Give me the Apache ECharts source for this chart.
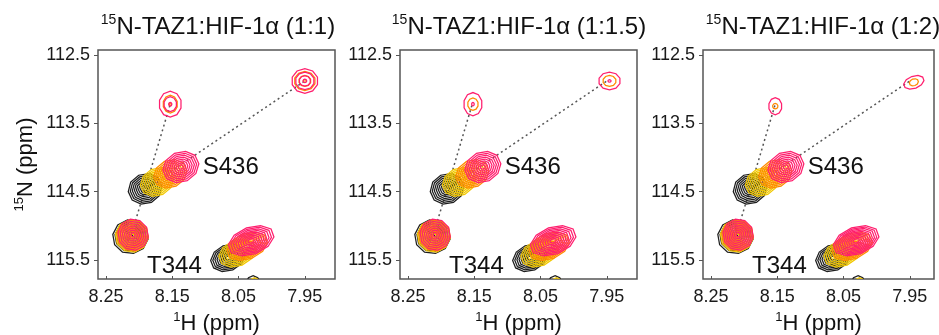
<!DOCTYPE html>
<html><head><meta charset="utf-8">
<script src="https://cdn.jsdelivr.net/npm/echarts@6/dist/echarts.min.js"></script>
<style>html,body{margin:0;padding:0;background:#fff}#c{width:939px;height:335px}</style>
</head><body><div id="c"></div>
<script>
// ---- data ----
const panelRatios = ['1:1', '1:1.5', '1:2'];
const xTicks = [8.25, 8.15, 8.05, 7.95];
const yTicks = [112.5, 113.5, 114.5, 115.5];
// peak: [1H ppm, 15N ppm, half-width 1H, half-width 15N, contour levels, lineshape tilt (deg)]
const freePeaks = [ // black
  [8.191, 114.46, 0.026, 0.22, 8, -25],
  [8.213, 115.16, 0.027, 0.25, 8, -10],
  [8.066, 115.47, 0.027, 0.19, 8, -22],
  [8.028, 115.90, 0.012, 0.17, 2, 0]
];
const yellowPeaks = [
  [8.173, 114.36, 0.026, 0.20, 8, -25],
  [8.211, 115.15, 0.025, 0.24, 8, -10],
  [8.052, 115.40, 0.029, 0.19, 8, -22],
  [8.026, 115.92, 0.011, 0.16, 2, 0]
];
const orangePeaks1 = [
  [7.950, 112.88, 0.016, 0.14, 3, 0],
  [8.153, 113.22, 0.011, 0.13, 2, 0],
  [8.153, 114.24, 0.026, 0.20, 8, -25],
  [8.210, 115.14, 0.024, 0.23, 8, -10],
  [8.037, 115.30, 0.032, 0.19, 9, -22]
];
const pinkPeaks1 = [
  [7.950, 112.88, 0.020, 0.18, 4, 0],
  [8.153, 113.22, 0.017, 0.19, 3, 0],
  [8.137, 114.14, 0.028, 0.22, 8, -25],
  [8.209, 115.13, 0.023, 0.23, 7, -10],
  [8.031, 115.22, 0.036, 0.20, 9, -20]
];
const orangePeaks2 = [
  [7.946, 112.88, 0.010, 0.08, 1, 0],
  [8.152, 113.22, 0.008, 0.09, 1, 0],
  [8.153, 114.24, 0.026, 0.20, 8, -25],
  [8.210, 115.14, 0.024, 0.23, 8, -10],
  [8.037, 115.30, 0.032, 0.19, 9, -22]
];
const pinkPeaks2 = [
  [7.946, 112.88, 0.0165, 0.13, 2, 0],
  [8.152, 113.22, 0.014, 0.17, 2, 0],
  [8.137, 114.14, 0.028, 0.22, 8, -25],
  [8.209, 115.13, 0.023, 0.23, 7, -10],
  [8.031, 115.22, 0.036, 0.20, 9, -20]
];
const orangePeaks3 = [
  [7.944, 112.90, 0.007, 0.05, 1, -20],
  [8.153, 113.25, 0.004, 0.04, 1, 0],
  [8.153, 114.24, 0.026, 0.20, 8, -25],
  [8.210, 115.14, 0.024, 0.23, 8, -10],
  [8.037, 115.30, 0.032, 0.19, 9, -22]
];
const pinkPeaks3 = [
  [7.944, 112.90, 0.016, 0.09, 1, -20],
  [8.153, 113.25, 0.010, 0.125, 1, 0],
  [8.137, 114.14, 0.028, 0.22, 8, -25],
  [8.209, 115.13, 0.023, 0.23, 8, -10],
  [8.031, 115.22, 0.036, 0.20, 10, -20]
];
const shiftPaths = [
  [[8.191, 114.46], [8.153, 113.22]],
  [[8.191, 114.46], [7.950, 112.88]],
  [[8.212, 115.14], [8.191, 114.46]]
];
const assignments = [
  [8.104, 114.15, 'S436'],
  [8.188, 115.60, 'T344']
];
const panelPeaks = [
  [freePeaks, yellowPeaks, orangePeaks1, pinkPeaks1],
  [freePeaks, yellowPeaks, orangePeaks2, pinkPeaks2],
  [freePeaks, yellowPeaks, orangePeaks3, pinkPeaks3]
];

// ---- layout / style ----
const colors = ['#1e1e1e', '#f2c800', '#ff8a00', '#ff1f6e'];
const grids = [
  { left: 98, top: 50, width: 237, height: 229 },
  { left: 400, top: 50, width: 237, height: 229 },
  { left: 703, top: 50, width: 231, height: 229 }
];
const titleCenters = [213, 514, 818];
const pxPerPpmH = 663;
const hLeft = 8.262;
const nMin = 112.427, nMax = 115.78;
const FONT = '"Liberation Sans", Arial, Helvetica, sans-serif';

function renderPeak(params, api) {
  const c = api.coord([api.value(0), api.value(1)]);
  const sz = api.size([api.value(2), api.value(3)]);
  const rx = Math.abs(sz[0]), ry = Math.abs(sz[1]);
  const n = api.value(4);
  const t = api.value(5) * Math.PI / 180;
  const cs = Math.cos(t), sn = Math.sin(t);
  const color = api.visual('color');
  const children = [];
  const inner = 0.14;
  for (let i = 0; i < n; i++) {
    const s = n === 1 ? 1 : inner + (1 - inner) * i / (n - 1);
    const pts = [];
    for (let k = 0; k < 10; k++) {
      const a = (k + 0.5) * 2 * Math.PI / 10;
      const ex = Math.cos(a) * rx * s, ey = Math.sin(a) * ry * s;
      pts.push([c[0] + ex * cs - ey * sn, c[1] + ex * sn + ey * cs]);
    }
    children.push({ type: 'polygon', shape: { points: pts },
      style: { fill: 'none', stroke: color, lineWidth: 1.25 } });
  }
  return { type: 'group', children };
}

const supStyle = (fs, lh) => ({ fontSize: fs, fontFamily: FONT, fontWeight: 'normal', color: '#111', verticalAlign: 'top', lineHeight: lh });
const mainStyle = (fs, lh) => ({ fontSize: fs, fontFamily: FONT, fontWeight: 'normal', color: '#111', lineHeight: lh });

const option = {
  backgroundColor: '#fff',
  animation: false,
  title: panelRatios.map((r, i) => ({
    text: '{s|15}{n|N-TAZ1:HIF-1α (' + r + ')}',
    left: titleCenters[i], top: 8, textAlign: 'center',
    textStyle: { fontFamily: FONT, fontWeight: 'normal', rich: { s: supStyle(14, 16), n: mainStyle(24, 28) } }
  })),
  grid: grids.map(g => Object.assign({ show: true, borderColor: '#555', borderWidth: 1.5,
    backgroundColor: 'transparent', containLabel: false, outerBoundsMode: 'none' }, g)),
  xAxis: grids.map((g, i) => ({
    gridIndex: i, type: 'value', inverse: true,
    min: hLeft - g.width / pxPerPpmH, max: hLeft,
    name: '{s|1}{n|H (ppm)}', nameLocation: 'middle', nameGap: 31,
    nameTextStyle: { fontWeight: 'normal', rich: { s: supStyle(13, 15), n: mainStyle(22, 26) } },
    splitLine: { show: false },
    axisLine: { show: false },
    axisTick: { show: true, inside: true, length: 3, customValues: xTicks, lineStyle: { color: '#555' } },
    axisLabel: { customValues: xTicks, formatter: v => v.toFixed(2), fontSize: 18, fontFamily: FONT, color: '#1a1a1a', margin: 9 }
  })),
  yAxis: grids.map((g, i) => ({
    gridIndex: i, type: 'value', inverse: true, min: nMin, max: nMax,
    name: i === 0 ? '{s|15}{n|N (ppm)}' : '', nameLocation: 'middle', nameGap: 59, nameRotate: 90,
    nameTextStyle: { fontWeight: 'normal', rich: { s: supStyle(13, 15), n: mainStyle(22, 26) } },
    splitLine: { show: false },
    axisLine: { show: false },
    axisTick: { show: true, length: 4, customValues: yTicks, lineStyle: { color: '#555' } },
    axisLabel: { customValues: yTicks, formatter: v => v.toFixed(1), fontSize: 18, fontFamily: FONT, color: '#1a1a1a', margin: 8 }
  })),
  series: []
};

for (let p = 0; p < 3; p++) {
  option.series.push({
    type: 'lines', coordinateSystem: 'cartesian2d', xAxisIndex: p, yAxisIndex: p,
    silent: true, z: 1,
    lineStyle: { color: '#555', width: 1.5, type: [2, 3], opacity: 1 },
    data: shiftPaths.map(c => ({ coords: c }))
  });
  panelPeaks[p].forEach((peaks, ci) => {
    option.series.push({
      type: 'custom', xAxisIndex: p, yAxisIndex: p, clip: true, silent: true, z: 2 + ci,
      itemStyle: { color: colors[ci] },
      renderItem: renderPeak,
      data: peaks
    });
  });
  option.series.push({
    type: 'scatter', xAxisIndex: p, yAxisIndex: p, silent: true, z: 10,
    symbolSize: 0, itemStyle: { opacity: 1 },
    label: { show: true, position: 'right', distance: 0, formatter: q => q.value[2],
      fontSize: 24, fontFamily: FONT, color: '#111', opacity: 1, textBorderWidth: 0 },
    data: assignments
  });
}

const chart = echarts.init(document.getElementById('c'), null, { renderer: 'canvas' });
chart.setOption(option);
</script>
</body></html>
